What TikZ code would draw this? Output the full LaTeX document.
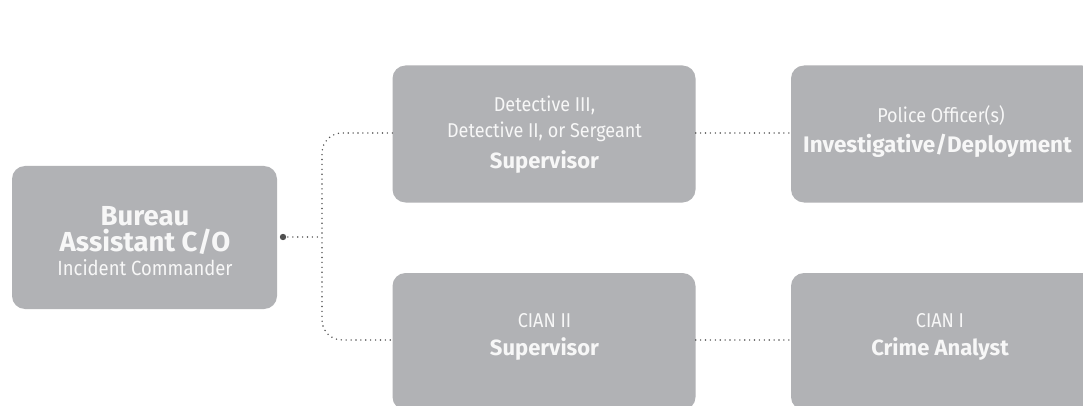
\documentclass[tikz,border=0pt]{standalone}
\usepackage{fontspec}
\setmainfont{Fira Sans}
\newfontfamily\narrowfont[FakeStretch=0.9]{Fira Sans}
\definecolor{boxgray}{HTML}{B1B2B5}
\definecolor{linegray}{HTML}{505050}
\definecolor{txt}{HTML}{F7F7F7}
\tikzset{
  orgbox/.style={fill=boxgray, rounded corners=13pt, draw=none, inner sep=0pt},
  conn/.style={draw=linegray, line width=1.6pt, dash pattern=on 0pt off 4.9pt, line cap=round},
  lt/.style={text=txt, anchor=base, inner sep=0pt, font=\narrowfont\fontsize{20}{22}\selectfont},
  bt/.style={text=txt, anchor=base, inner sep=0pt, font=\bfseries\fontsize{22}{24}\selectfont},
}
\begin{document}
\begin{tikzpicture}[x=1pt,y=-1pt]
\useasboundingbox (0,0) rectangle (1083,406);
\fill[white] (0,0) rectangle (1083,406);
% boxes
\node[orgbox, minimum width=265pt, minimum height=143pt] (bac) at (144.5,237.5) {};
\node[orgbox, minimum width=303pt, minimum height=137pt] (det) at (544,134) {};
\node[orgbox, minimum width=304pt, minimum height=137pt] (po) at (943,134) {};
\node[orgbox, minimum width=303pt, minimum height=137pt] (cian2) at (544,341.5) {};
\node[orgbox, minimum width=304pt, minimum height=137pt] (cian1) at (943,341.5) {};
% texts
\node[bt, font=\bfseries\fontsize{27.5}{28}\selectfont] (bact1) at (145,225) {Bureau};
\node[bt, font=\bfseries\fontsize{27.5}{28}\selectfont] (bact2) at (145,251) {Assistant C/O};
\node[lt, font=\narrowfont\fontsize{20.5}{22}\selectfont] (bacs) at (145,275) {Incident Commander};
\node[lt] (dett1) at (544.5,112) {Detective III,};
\node[lt] (dett2) at (544.5,138) {Detective II, or Sergeant};
\node[bt] (dets) at (544.5,168) {Supervisor};
\node[lt] (pot) at (941,123) {Police Officer(s)};
\node[bt, font=\bfseries\fontsize{22.5}{24}\selectfont] (pos) at (937.5,153) {Investigative/Deployment};
\node[lt] (c2t) at (544.5,327) {CIAN II};
\node[bt] (c2s) at (544.5,355) {Supervisor};
\node[lt] (c1t) at (940,327) {CIAN I};
\node[bt] (c1s) at (940,355) {Crime Analyst};
% connectors
\coordinate (dot) at (283,237);
\coordinate (vx) at (322,237);
\fill[linegray] (dot) circle (3.2pt);
\draw[conn] (dot) -- (vx);
\draw[conn, rounded corners=20pt] (det.west |- 0,133) -- (322,133) -- (322,340) -- (cian2.west |- 0,340);
\draw[conn] (det.east |- 0,133) -- (po.west |- 0,133);
\draw[conn] (cian2.east |- 0,340) -- (cian1.west |- 0,340);
\end{tikzpicture}
\end{document}
